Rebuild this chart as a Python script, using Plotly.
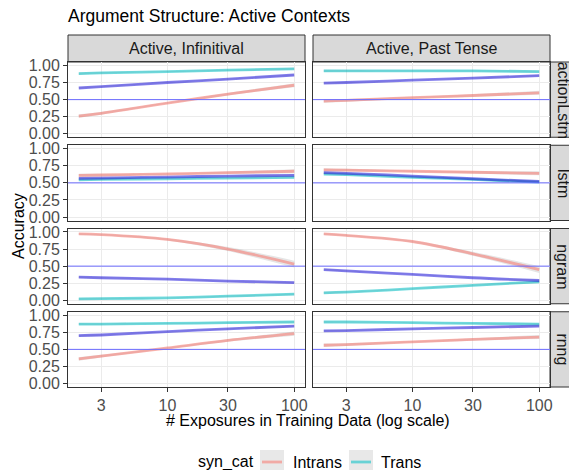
import plotly.graph_objects as go
from plotly.subplots import make_subplots

# exposures (log scale x)
X = [2, 3, 10, 30, 100]

# facet labels
COLS = ["Active, Infinitival", "Active, Past Tense"]
ROWS = ["actionLstm", "lstm", "ngram", "rnng"]

# actionLstm
ACTIONLSTM_INF_INTRANS = [0.26, 0.30, 0.45, 0.58, 0.71]
ACTIONLSTM_INF_TRANS = [0.88, 0.89, 0.91, 0.93, 0.95]
ACTIONLSTM_INF_ALL = [0.67, 0.69, 0.75, 0.80, 0.86]
ACTIONLSTM_PAST_INTRANS = [0.48, 0.49, 0.53, 0.56, 0.60]
ACTIONLSTM_PAST_TRANS = [0.92, 0.92, 0.92, 0.92, 0.91]
ACTIONLSTM_PAST_ALL = [0.74, 0.75, 0.785, 0.815, 0.85]

# lstm
LSTM_INF_INTRANS = [0.61, 0.615, 0.63, 0.65, 0.67]
LSTM_INF_TRANS = [0.545, 0.55, 0.56, 0.57, 0.58]
LSTM_INF_ALL = [0.565, 0.57, 0.585, 0.60, 0.61]
LSTM_PAST_INTRANS = [0.69, 0.685, 0.67, 0.655, 0.64]
LSTM_PAST_TRANS = [0.63, 0.62, 0.58, 0.55, 0.51]
LSTM_PAST_ALL = [0.65, 0.64, 0.60, 0.56, 0.52]

# ngram
NGRAM_INF_INTRANS = [0.97, 0.96, 0.89, 0.75, 0.53]
NGRAM_INF_TRANS = [0.02, 0.025, 0.035, 0.06, 0.09]
NGRAM_INF_ALL = [0.34, 0.33, 0.31, 0.28, 0.26]
NGRAM_PAST_INTRANS = [0.97, 0.95, 0.86, 0.68, 0.45]
NGRAM_PAST_TRANS = [0.11, 0.12, 0.17, 0.22, 0.27]
NGRAM_PAST_ALL = [0.45, 0.43, 0.38, 0.33, 0.29]

# rnng
RNNG_INF_INTRANS = [0.36, 0.40, 0.52, 0.63, 0.73]
RNNG_INF_TRANS = [0.87, 0.87, 0.88, 0.89, 0.90]
RNNG_INF_ALL = [0.70, 0.71, 0.76, 0.80, 0.84]
RNNG_PAST_INTRANS = [0.56, 0.57, 0.61, 0.645, 0.68]
RNNG_PAST_TRANS = [0.90, 0.90, 0.89, 0.88, 0.87]
RNNG_PAST_ALL = [0.77, 0.775, 0.80, 0.82, 0.84]

# standard error half-widths of the smooths
SE_INTRANS = [0.025, 0.02, 0.012, 0.018, 0.03]
SE_INTRANS_NGRAM = [0.015, 0.012, 0.015, 0.03, 0.05]
SE_TRANS = [0.015, 0.012, 0.008, 0.01, 0.015]
SE_ALL = [0.012, 0.01, 0.006, 0.008, 0.012]

CHANCE = 0.5

panels = [
    [(ACTIONLSTM_INF_INTRANS, ACTIONLSTM_INF_TRANS, ACTIONLSTM_INF_ALL),
     (ACTIONLSTM_PAST_INTRANS, ACTIONLSTM_PAST_TRANS, ACTIONLSTM_PAST_ALL)],
    [(LSTM_INF_INTRANS, LSTM_INF_TRANS, LSTM_INF_ALL),
     (LSTM_PAST_INTRANS, LSTM_PAST_TRANS, LSTM_PAST_ALL)],
    [(NGRAM_INF_INTRANS, NGRAM_INF_TRANS, NGRAM_INF_ALL),
     (NGRAM_PAST_INTRANS, NGRAM_PAST_TRANS, NGRAM_PAST_ALL)],
    [(RNNG_INF_INTRANS, RNNG_INF_TRANS, RNNG_INF_ALL),
     (RNNG_PAST_INTRANS, RNNG_PAST_TRANS, RNNG_PAST_ALL)],
]

C_INTRANS = "rgba(248,118,109,0.55)"
C_TRANS = "rgba(0,191,196,0.55)"
C_ALL = "rgba(30,20,220,0.55)"
RIBBON = "rgba(153,153,153,0.25)"
FONT = "Liberation Sans"

W, H = 569, 470
ML, MR, MT, MB = 68, 19, 62, 83
PW, PH = W - ML - MR, H - MT - MB

fig = make_subplots(rows=4, cols=2, horizontal_spacing=8 / PW, vertical_spacing=8 / PH)


def add_smooth(y, se, color, r, c):
    hi = [v + s for v, s in zip(y, se)]
    lo = [v - s for v, s in zip(y, se)]
    fig.add_trace(go.Scatter(x=X, y=hi, mode="lines", line=dict(width=0, shape="spline"),
                             showlegend=False, hoverinfo="skip"), row=r, col=c)
    fig.add_trace(go.Scatter(x=X, y=lo, mode="lines", line=dict(width=0, shape="spline"),
                             fill="tonexty", fillcolor=RIBBON, showlegend=False,
                             hoverinfo="skip"), row=r, col=c)
    fig.add_trace(go.Scatter(x=X, y=y, mode="lines", line=dict(color=color, width=2.8, shape="spline"),
                             showlegend=False), row=r, col=c)


for i, row in enumerate(panels):
    for j, (intr, tr, al) in enumerate(row):
        r, c = i + 1, j + 1
        se_i = SE_INTRANS_NGRAM if ROWS[i] == "ngram" else SE_INTRANS
        add_smooth(intr, se_i, C_INTRANS, r, c)
        add_smooth(tr, SE_TRANS, C_TRANS, r, c)
        add_smooth(al, SE_ALL, C_ALL, r, c)
        fig.add_hline(y=CHANCE, line=dict(color="#6b6bff", width=1), row=r, col=c)

fig.update_xaxes(type="log", range=[0.216, 2.085], tickvals=[3, 10, 30, 100],
                 ticktext=["3", "10", "30", "100"], showgrid=True, gridcolor="#ebebeb",
                 gridwidth=1, zeroline=False, showline=True, mirror=True,
                 linecolor="#333333", linewidth=1,
                 tickfont=dict(family=FONT, size=16, color="#4d4d4d"))
fig.update_yaxes(range=[-0.05, 1.05], tickvals=[0, 0.25, 0.5, 0.75, 1],
                 ticktext=["0.00", "0.25", "0.50", "0.75", "1.00"], showgrid=True,
                 gridcolor="#ebebeb", gridwidth=1, zeroline=False, showline=True,
                 mirror=True, linecolor="#333333", linewidth=1,
                 tickfont=dict(family=FONT, size=16, color="#4d4d4d"))
for r in range(1, 5):
    for c in range(1, 3):
        fig.update_xaxes(showticklabels=(r == 4), ticks="outside" if r == 4 else "",
                         ticklen=4, tickcolor="#333333", row=r, col=c)
        fig.update_yaxes(showticklabels=(c == 1), ticks="outside" if c == 1 else "",
                         ticklen=4, tickcolor="#333333", row=r, col=c)

shapes = []
annotations = []
strip_h = 27 / ((PH - 24) / 4)
for c in range(2):
    ax = "" if c == 0 else "2"
    shapes.append(dict(type="rect", xref=f"x{ax} domain", yref=f"y{ax} domain",
                       x0=0, x1=1, y0=1, y1=1 + strip_h, fillcolor="#d9d9d9",
                       line=dict(color="#333333", width=1), layer="below"))
    annotations.append(dict(text=COLS[c], xref=f"x{ax} domain", yref=f"y{ax} domain",
                            x=0.5, y=1 + strip_h / 2, xanchor="center", yanchor="middle",
                            showarrow=False,
                            font=dict(family=FONT, size=16, color="#1a1a1a")))
for r in range(4):
    n = r * 2 + 2
    shapes.append(dict(type="rect", xref=f"x{n} domain", yref=f"y{n} domain",
                       x0=1, x1=1 + 26 / 237, y0=0, y1=1, fillcolor="#d9d9d9",
                       line=dict(color="#333333", width=1), layer="below"))
    annotations.append(dict(text=ROWS[r], xref=f"x{n} domain", yref=f"y{n} domain",
                            x=1 + 13 / 237, y=0.5, xanchor="center", yanchor="middle",
                            showarrow=False, textangle=90,
                            font=dict(family=FONT, size=16, color="#1a1a1a")))


def px(x):
    return (x - ML) / PW


def py(y):
    return (H - MB - y) / PH


# axis titles
annotations.append(dict(text="# Exposures in Training Data (log scale)", xref="paper", yref="paper",
                        x=px(308), y=py(420), xanchor="center", yanchor="middle", showarrow=False,
                        font=dict(family=FONT, size=16, color="black")))
annotations.append(dict(text="Accuracy", xref="paper", yref="paper", x=px(18), y=py(226),
                        xanchor="center", yanchor="middle", showarrow=False, textangle=-90,
                        font=dict(family=FONT, size=16, color="black")))

# legend drawn by hand (grey key boxes as in ggplot)
annotations.append(dict(text="syn_cat", xref="paper", yref="paper", x=px(196), y=py(462),
                        xanchor="left", yanchor="middle", showarrow=False,
                        font=dict(family=FONT, size=16, color="black")))
for name, col, bx, tx in [("Intrans", C_INTRANS, 260, 291), ("Trans", C_TRANS, 349, 379)]:
    shapes.append(dict(type="rect", xref="paper", yref="paper", x0=px(bx), x1=px(bx + 24),
                       y0=py(450), y1=py(474), fillcolor="#e8e8e8", line=dict(width=0)))
    shapes.append(dict(type="line", xref="paper", yref="paper", x0=px(bx + 2), x1=px(bx + 22),
                       y0=py(462), y1=py(462), line=dict(color=col, width=2.8)))
    annotations.append(dict(text=name, xref="paper", yref="paper", x=px(tx), y=py(462),
                            xanchor="left", yanchor="middle", showarrow=False,
                            font=dict(family=FONT, size=16, color="black")))

fig.update_layout(
    width=W, height=H,
    margin=dict(l=ML, r=MR, t=MT, b=MB),
    plot_bgcolor="white", paper_bgcolor="white",
    showlegend=False,
    shapes=list(fig.layout.shapes) + shapes,
    annotations=annotations,
    title=dict(text="Argument Structure: Active Contexts", xref="container", yref="container",
               x=68 / W, xanchor="left", y=1 - 16 / H, yanchor="middle",
               font=dict(family=FONT, size=17.5, color="black")),
)

fig.write_html("out.html", config={"displayModeBar": False},
               post_script="document.body.style.margin='0px';")
